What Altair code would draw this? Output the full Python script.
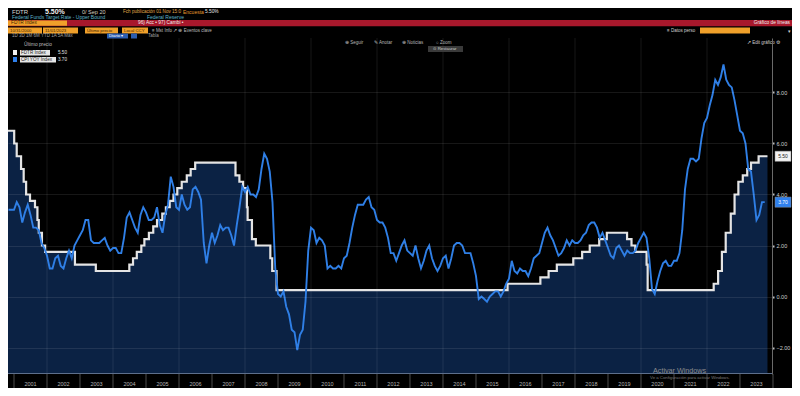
import altair as alt
import pandas as pd
import numpy as np

# ---------------- data ----------------
fdtr_dates = ["2000-10-01", "2001-01-03", "2001-01-31", "2001-03-20", "2001-04-18", "2001-05-15",
              "2001-06-27", "2001-08-21", "2001-09-17", "2001-10-02", "2001-11-06", "2001-12-11",
              "2002-11-06", "2003-06-25", "2004-06-30", "2004-08-10", "2004-09-21", "2004-11-10",
              "2004-12-14", "2005-02-02", "2005-03-22", "2005-05-03", "2005-06-30", "2005-08-09",
              "2005-09-20", "2005-11-01", "2005-12-13", "2006-01-31", "2006-03-28", "2006-05-10",
              "2006-06-29", "2007-09-18", "2007-10-31", "2007-12-11", "2008-01-22", "2008-01-30",
              "2008-03-18", "2008-04-30", "2008-10-08", "2008-10-29", "2008-12-16", "2015-12-16",
              "2016-12-14", "2017-03-15", "2017-06-14", "2017-12-13", "2018-03-21", "2018-06-13",
              "2018-09-26", "2018-12-19", "2019-07-31", "2019-09-18", "2019-10-30", "2020-03-03",
              "2020-03-15", "2022-03-16", "2022-05-04", "2022-06-15", "2022-07-27", "2022-09-21",
              "2022-11-02", "2022-12-14", "2023-02-01", "2023-03-22", "2023-05-03", "2023-07-26",
              "2023-11-01"]
fdtr_values = [6.5, 6.0, 5.5, 5.0, 4.5, 4.0, 3.75, 3.5, 3.0, 2.5, 2.0, 1.75,
               1.25, 1.0, 1.25, 1.5, 1.75, 2.0, 2.25, 2.5, 2.75, 3.0, 3.25, 3.5,
               3.75, 4.0, 4.25, 4.5, 4.75, 5.0, 5.25, 4.75, 4.5, 4.25, 3.5, 3.0,
               2.25, 2.0, 1.5, 1.0, 0.25, 0.5, 0.75, 1.0, 1.25, 1.5, 1.75, 2.0,
               2.25, 2.5, 2.25, 2.0, 1.75, 1.25, 0.25, 0.5, 1.0, 1.75, 2.5, 3.25,
               4.0, 4.5, 4.75, 5.0, 5.25, 5.5, 5.5]

cpi_start = "2000-10-01"
cpi_values = [3.4, 3.4, 3.4,
              3.7, 3.5, 2.9, 3.3, 3.6, 3.2, 2.7, 2.7, 2.6, 2.1, 1.9, 1.6,
              1.1, 1.1, 1.5, 1.6, 1.2, 1.1, 1.5, 1.8, 1.5, 2.0, 2.2, 2.4,
              2.6, 3.0, 3.0, 2.2, 2.1, 2.1, 2.1, 2.2, 2.3, 2.0, 1.8, 1.9,
              1.9, 1.7, 1.7, 2.3, 3.1, 3.3, 3.0, 2.7, 2.5, 3.2, 3.5, 3.3,
              3.0, 3.0, 3.1, 3.5, 2.8, 2.5, 3.2, 3.6, 4.7, 4.3, 3.5, 3.4,
              4.0, 3.6, 3.4, 3.5, 4.2, 4.3, 4.1, 3.8, 2.1, 1.3, 2.0, 2.5,
              2.1, 2.4, 2.8, 2.6, 2.7, 2.7, 2.4, 2.0, 2.8, 3.5, 4.3, 4.1,
              4.3, 4.0, 4.0, 3.9, 4.2, 5.0, 5.6, 5.4, 4.9, 3.7, 1.1, 0.1,
              0.0, 0.2, -0.4, -0.7, -1.3, -1.4, -2.1, -1.5, -1.3, -0.2, 1.8, 2.7,
              2.6, 2.1, 2.3, 2.2, 2.0, 1.1, 1.2, 1.1, 1.1, 1.2, 1.1, 1.5,
              1.6, 2.1, 2.7, 3.2, 3.6, 3.6, 3.6, 3.8, 3.9, 3.5, 3.4, 3.0,
              2.9, 2.9, 2.7, 2.3, 1.7, 1.7, 1.4, 1.7, 2.0, 2.2, 1.8, 1.7,
              1.6, 2.0, 1.5, 1.1, 1.4, 1.8, 2.0, 1.5, 1.2, 1.0, 1.2, 1.5,
              1.6, 1.1, 1.5, 2.0, 2.1, 2.1, 2.0, 1.7, 1.7, 1.7, 1.3, 0.8,
              -0.1, 0.0, -0.1, -0.2, 0.0, 0.1, 0.2, 0.2, 0.0, 0.2, 0.5, 0.7,
              1.4, 1.0, 0.9, 1.1, 1.0, 1.0, 0.8, 1.1, 1.5, 1.6, 1.7, 2.1,
              2.5, 2.7, 2.4, 2.2, 1.9, 1.6, 1.7, 1.9, 2.2, 2.0, 2.2, 2.1,
              2.1, 2.2, 2.4, 2.5, 2.8, 2.9, 2.9, 2.7, 2.3, 2.5, 2.2, 1.9,
              1.6, 1.5, 1.9, 2.0, 1.8, 1.6, 1.8, 1.7, 1.7, 1.8, 2.1, 2.3,
              2.5, 2.3, 1.5, 0.3, 0.1, 0.6, 1.0, 1.3, 1.4, 1.2, 1.2, 1.4,
              1.4, 1.7, 2.6, 4.2, 5.0, 5.4, 5.4, 5.3, 5.4, 6.2, 6.8, 7.0,
              7.5, 7.9, 8.5, 8.3, 8.6, 9.1, 8.5, 8.3, 8.2, 7.7, 7.1, 6.5,
              6.4, 6.0, 5.0, 4.9, 4.0, 3.0, 3.2, 3.7, 3.7]

year_labels = list(range(2001, 2024))
y_ticks = [-2, 0, 2, 4, 6, 8]
series_names = ["FDTR Index", "CPI YOY Index"]

# ---------------- frames ----------------
d = pd.to_datetime(pd.Series(fdtr_dates))
fdtr_df = pd.DataFrame({
    "t": d.dt.year + (d.dt.dayofyear - 1) / np.where(d.dt.is_leap_year, 366, 365),
    "v": fdtr_values,
})
m = pd.date_range(cpi_start, periods=len(cpi_values), freq="MS")
cpi_df = pd.DataFrame({"t": m.year + m.month / 12.0, "v": cpi_values})
years_df = pd.DataFrame({"t": [y + 0.5 for y in year_labels], "lab": [str(y) for y in year_labels]})
grid_years = [y for y in range(2002, 2024, 2)]
bound_years = list(range(2001, 2025))

# ---------------- styles ----------------
FONT = "Liberation Sans"
W, H = 764, 336
YMIN, YMAX = -3.039, 10.137
XMIN, XMAX = 2000.818, 2023.97
FILL = "#0b2244"
BLUE = "#2f7fe6"
WHITE = "#e4e4e4"
ORANGE = "#f0a02a"
RED = "#a8182c"

xs = alt.Scale(domain=[XMIN, XMAX], nice=False, zero=False)
ys = alt.Scale(domain=[YMIN, YMAX], nice=False, zero=False)
one = pd.DataFrame({"a": [0]})


def txt(s, px, py, size=5.0, color="#c8c8c8", align="left", weight="normal", font=FONT):
    return alt.Chart(one).mark_text(
        text=s, align=align, baseline="middle", fontSize=size, color=color,
        fontWeight=weight, font=font
    ).encode(x=alt.value(px - 8), y=alt.value(py - 38))


def box(x0, y0, x1, y1, color, opacity=1.0):
    return alt.Chart(one).mark_rect(color=color, opacity=opacity).encode(
        x=alt.value(x0 - 8), x2=alt.value(x1 - 8), y=alt.value(y0 - 38), y2=alt.value(y1 - 38)
    )


area = alt.Chart(fdtr_df).mark_area(interpolate="step-after", color=FILL).encode(
    x=alt.X("t:Q", scale=xs, axis=None),
    y=alt.Y("v:Q", scale=ys, axis=alt.Axis(
        title="", orient="right", values=y_ticks, format=".2f", grid=True, gridColor="#ffffff",
        gridOpacity=0.09, domain=True, domainColor="#6a6a6a", tickColor="#bdbdbd", tickSize=2,
        tickWidth=2, labelFontSize=5.5, labelColor="#cfcfcf", labelPadding=2, labelFont=FONT,
        labelOverlap=False, zindex=1)),
    y2=alt.datum(YMIN),
)

vgrid = alt.Chart(pd.DataFrame({"t": grid_years})).mark_rule(
    color="#ffffff", opacity=0.09, strokeWidth=1).encode(x=alt.X("t:Q", scale=xs, axis=None))

sep = alt.Chart(pd.DataFrame({"t": bound_years})).mark_rule(
    color="#4d4d4d", strokeWidth=1).encode(
    x=alt.X("t:Q", scale=xs, axis=None), y=alt.value(H), y2=alt.value(H + 14))

year_text = alt.Chart(years_df).mark_text(
    fontSize=5.5, font=FONT, color="#b5b5b5", baseline="middle").encode(
    x=alt.X("t:Q", scale=xs, axis=None), y=alt.value(H + 10), text="lab:N")

bottom_line = alt.Chart(one).mark_rule(color="#5d6f8c", strokeWidth=1).encode(
    x=alt.value(0), x2=alt.value(W), y=alt.value(H - 0.5))

fdtr_line = alt.Chart(fdtr_df).mark_line(
    interpolate="step-after", color=WHITE, strokeWidth=2.2).encode(
    x=alt.X("t:Q", scale=xs, axis=None), y=alt.Y("v:Q", scale=ys))

cpi_line = alt.Chart(cpi_df).mark_line(color=BLUE, strokeWidth=1.9).encode(
    x=alt.X("t:Q", scale=xs, axis=None), y=alt.Y("v:Q", scale=ys))


def last_value(v, box_color, text_color):
    df = pd.DataFrame({"v": [v], "lab": [f"{v:.2f}"]})
    b = alt.Chart(df).transform_calculate(
        lo="datum.v - 0.2", hi="datum.v + 0.2").mark_rect(
        color=box_color, stroke="#888888", strokeWidth=0.5).encode(
        y=alt.Y("lo:Q", scale=ys), y2="hi:Q", x=alt.value(767), x2=alt.value(783))
    t = alt.Chart(df).mark_text(fontSize=5, font=FONT, baseline="middle", color=text_color).encode(
        y=alt.Y("v:Q", scale=ys), x=alt.value(775), text="lab:N")
    return [b, t]


last_layers = last_value(fdtr_values[-1], "#f2f2f2", "#222222") + \
    last_value(cpi_values[-1], "#2f80ed", "#ffffff")

deco = [
    # row 1
    txt("FDTR", 12, 12, 6, "#d8d8d8"),
    txt("5.50%", 45, 12, 7, "#f2f2f2", weight="bold"),
    txt("0/ Sep 20", 82, 12, 5.5, "#d8d2c4"),
    txt("Fch publicación 01 Nov 15:0", 123, 12, 4.6, "#e0a848"),
    txt("Encuesta", 183, 12, 5, "#e69a2e"),
    txt("5.50%", 205, 12, 4.8, "#e8e8e8"),
    # row 2
    txt("Federal Funds Target Rate - Upper Bound", 12, 17.3, 5.0, "#5fb4c8"),
    txt("Federal Reserve", 147, 17.3, 5.0, "#5fb4c8"),
    # red bar
    box(0, 20, 800, 26.2, RED),
    box(8, 20.5, 67, 25.7, ORANGE),
    txt("FDTR Index", 11, 23.1, 4.8, "#3a2000"),
    txt("96) Acc •  97) Cambi •", 138, 23.1, 4.8, "#f0f0f0"),
    txt("Gráfico de líneas", 790, 23.1, 4.8, "#f0f0f0", align="right"),
    # row 4
    box(8, 27.5, 42, 33.5, ORANGE), box(43, 27.5, 78, 33.5, ORANGE),
    box(85, 27.5, 118, 33.5, ORANGE), box(122, 27.5, 148, 33.5, ORANGE),
    txt("10/31/2000", 10, 30.5, 4.3, "#3a2000"),
    txt("11/01/2023", 45, 30.5, 4.3, "#3a2000"),
    txt("Último precio", 87, 30.5, 4.3, "#3a2000"),
    txt("Local CCY", 124, 30.5, 4.3, "#3a2000"),
    txt("≡ Mst Info ↗   ⊕ Eventos clave", 152, 30.5, 4.5, "#bdbdbd"),
    txt("≡ Datos perso", 667, 30.5, 4.5, "#d0d0d0"),
    box(700, 27.5, 750, 33.5, ORANGE),
    txt("▾", 788, 30.5, 5, "#d0d0d0"),
    # row 5
    txt("1D   3D   1M   6M   YTD   1A   5A   Máx", 12, 36, 4.5, "#a0a0a0"),
    box(107, 33.5, 128, 38.5, "#2a5db0"),
    txt("Diario ▾", 109, 36, 4.3, "#ffffff"),
    box(131, 33.5, 137, 38.5, "#2a5db0"),
    txt("Tabla", 148, 36, 4.5, "#a0a0a0"),
    # row 6
    txt("⊕ Seguir", 345, 42.5, 4.5, "#b8b8b8"),
    txt("✎ Anotar", 374, 42.5, 4.5, "#b8b8b8"),
    txt("⊕ Noticias", 402, 42.5, 4.5, "#b8b8b8"),
    txt("○ Zoom", 436, 42.5, 4.5, "#b8b8b8"),
    txt("↗ Edit gráfico ⚙", 747, 42.5, 4.5, "#d0d0d0"),
    box(428, 46, 463, 52, "#3a3a3a"),
    txt("⊙ Restaurar", 445, 49, 4.3, "#d0d0d0", align="center"),
    # legend
    txt("Último precio", 24, 45, 4.8, "#bfbfbf"),
    box(13, 50, 17, 55, "#f2f2f2"),
    box(20, 50, 50, 55.5, "#e6e6e6"),
    txt(series_names[0], 21, 52.8, 4.6, "#222222"),
    txt(f"{fdtr_values[-1]:.2f}", 58, 52.8, 4.6, "#e0e0e0"),
    box(13, 57, 17, 62, "#2f80ed"),
    box(20, 57, 56, 62.5, "#e6e6e6"),
    txt(series_names[1], 21, 59.8, 4.6, "#222222"),
    txt(f"{cpi_values[-1]:.2f}", 58, 59.8, 4.6, "#e0e0e0"),
    # watermark
    txt("Activar Windows", 653, 371, 7.2, "#8c8c8c"),
    txt("Ve a Configuración para activar Windows.", 650, 377.6, 4.3, "#7c7c7c"),
]

chart = alt.layer(
    area, vgrid, sep, year_text, bottom_line, fdtr_line, cpi_line, *last_layers, *deco
).properties(
    width=W, height=H,
    autosize=alt.AutoSizeParams(type="none"),
    padding={"left": 0, "top": 30, "right": 20, "bottom": 14},
    background="#000000",
).configure_view(strokeOpacity=0)

chart.save("out.html", embed_options={"renderer": "svg", "actions": False})
